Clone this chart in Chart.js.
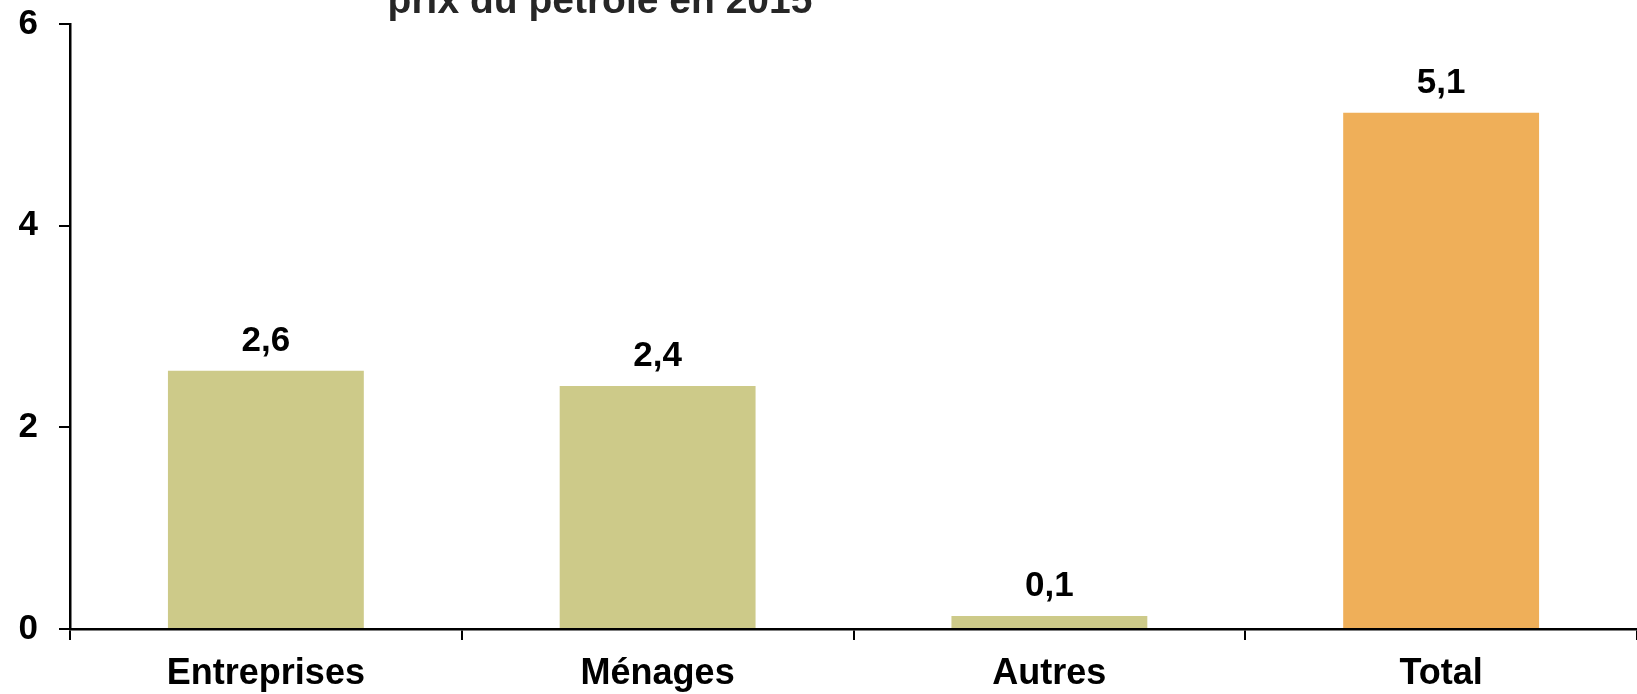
<!DOCTYPE html>
<html>
<head>
<meta charset="utf-8">
<script src="https://cdn.jsdelivr.net/npm/chart.js@4/dist/chart.umd.min.js"></script>
<style>
  html, body { margin: 0; padding: 0; background: #fff; }
  #wrap { width: 1637px; height: 694px; position: relative; }
</style>
</head>
<body>
<div id="wrap"><canvas id="c"></canvas></div>
<script>
"use strict";

// données
const categories = ["Entreprises", "Ménages", "Autres", "Total"];
const values = [2.56, 2.41, 0.13, 5.12];
const barColors = ["#CDCA89", "#CDCA89", "#CDCA89", "#EFAF59"];
const yTicks = [0, 2, 4, 6];
const titleLine = "prix du pétrole en 2015";

const FONT = "'Liberation Sans', Arial, sans-serif";
const fmt = (v) => v.toFixed(1).replace(".", ",");

// titre (coupé en haut comme sur l'original)
const titlePlugin = {
  id: "titleLine",
  afterDraw(chart) {
    const ctx = chart.ctx;
    ctx.save();
    ctx.font = "bold 39px " + FONT;
    ctx.fillStyle = "#262626";
    ctx.textAlign = "center";
    ctx.textBaseline = "alphabetic";
    ctx.fillText(titleLine, 600, 13);
    ctx.restore();
  },
};

// étiquettes de valeur au-dessus des barres
const valueLabels = {
  id: "valueLabels",
  afterDatasetsDraw(chart) {
    const ctx = chart.ctx;
    const meta = chart.getDatasetMeta(0);
    ctx.save();
    ctx.font = "bold 35px " + FONT;
    ctx.fillStyle = "#000";
    ctx.textAlign = "center";
    ctx.textBaseline = "alphabetic";
    meta.data.forEach((bar, i) => {
      ctx.fillText(fmt(values[i]), bar.x, bar.y - 20);
    });
    ctx.restore();
  },
};

new Chart(document.getElementById("c"), {
  type: "bar",
  data: {
    labels: categories,
    datasets: [
      {
        data: values,
        backgroundColor: barColors,
        borderWidth: 0,
        barPercentage: 0.5,
        categoryPercentage: 1,
      },
    ],
  },
  options: {
    responsive: true,
    maintainAspectRatio: false,
    animation: false,
    layout: { padding: { top: 24, right: 0, left: 0, bottom: 0 } },
    plugins: { legend: { display: false }, tooltip: { enabled: false }, title: { display: false } },
    scales: {
      x: {
        offset: true,
        grid: { offset: true, drawOnChartArea: false, drawTicks: true, tickLength: 11, color: "#000", lineWidth: 2 },
        border: { display: true, color: "#000", width: 2.5 },
        ticks: { color: "#000", font: { family: FONT, size: 36, weight: "bold" }, padding: 12, maxRotation: 0 },
        afterFit: (s) => { s.height = 65; s.paddingLeft = 0; s.paddingRight = 0; },
      },
      y: {
        min: 0,
        max: 6,
        afterBuildTicks: (s) => { s.ticks = yTicks.map((v) => ({ value: v })); },
        grid: { drawOnChartArea: false, drawTicks: true, tickLength: 11, color: "#000", lineWidth: 2 },
        border: { display: true, color: "#000", width: 2.5 },
        ticks: { color: "#000", font: { family: FONT, size: 35, weight: "bold" }, padding: 21 },
        afterFit: (s) => { s.width = 70; s.paddingTop = 0; s.paddingBottom = 0; },
      },
    },
  },
  plugins: [titlePlugin, valueLabels],
});
</script>
</body>
</html>
